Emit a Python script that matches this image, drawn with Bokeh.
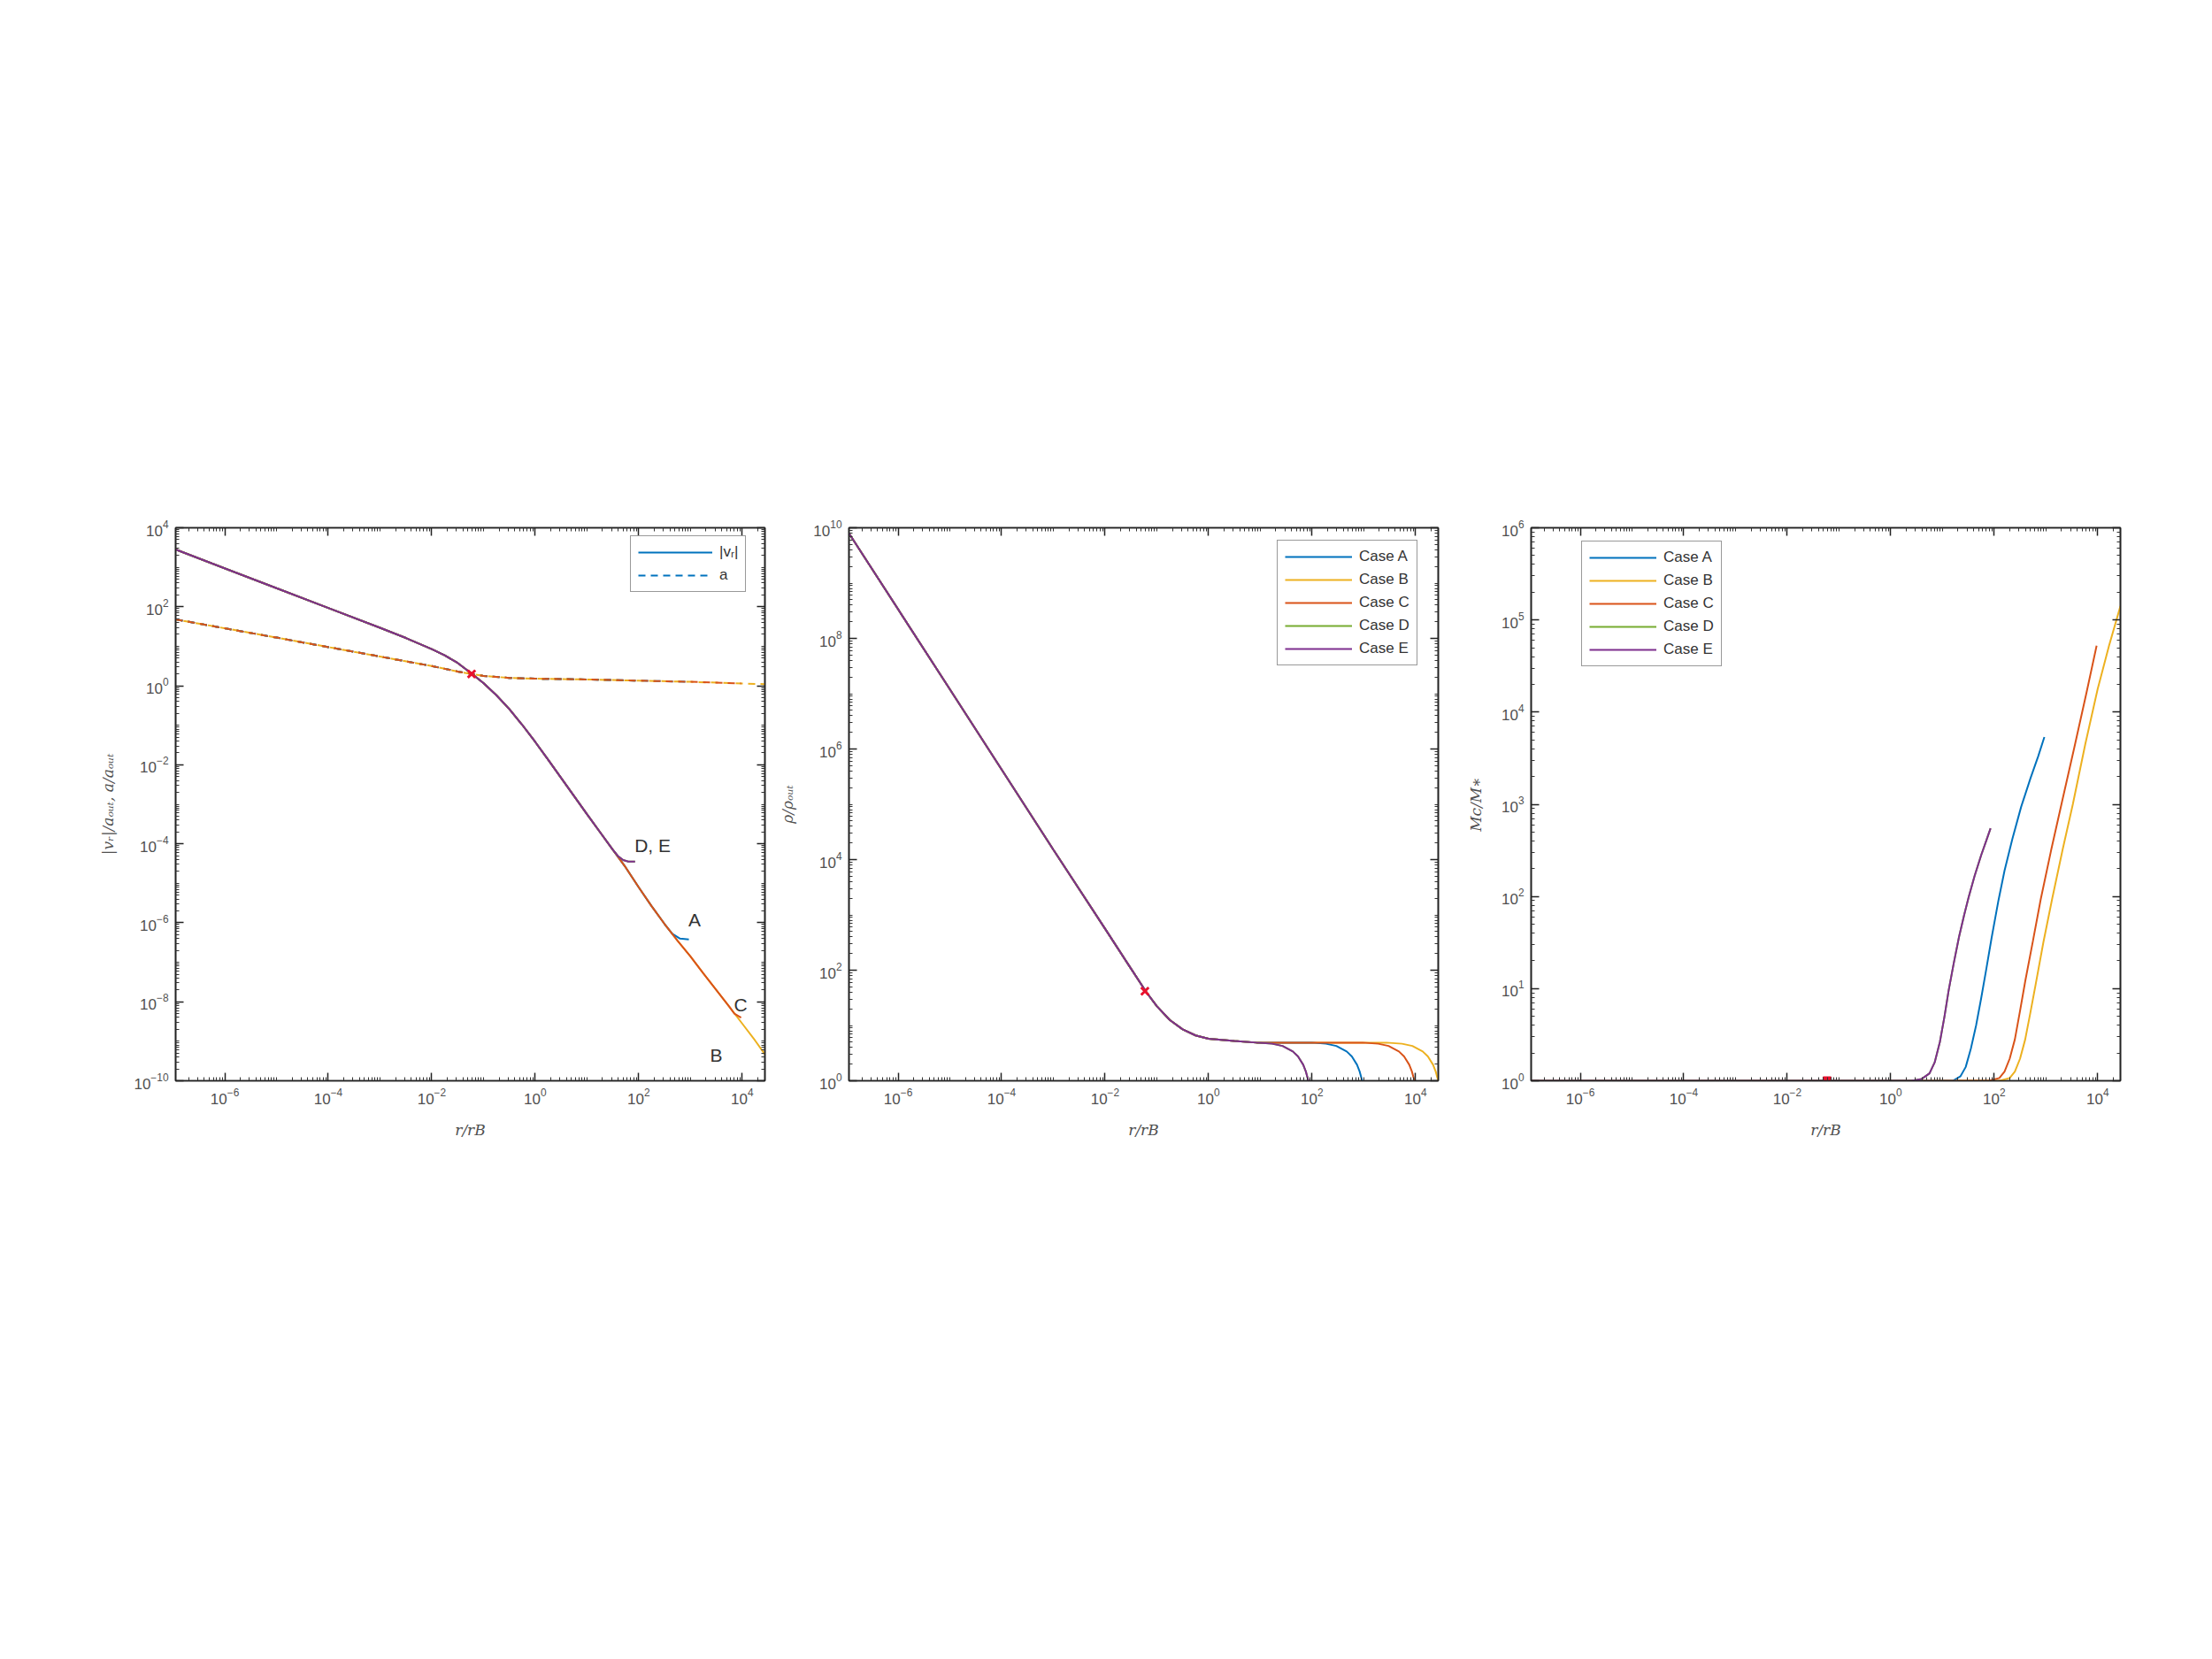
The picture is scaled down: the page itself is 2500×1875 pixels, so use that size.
from bokeh.plotting import figure
from bokeh.models import (Range1d, LogAxis, FixedTicker, Legend, LegendItem, Label,
                          CustomJSTickFormatter)
from bokeh.layouts import row
from bokeh.embed import file_html
from bokeh.resources import INLINE

# ---------------- data (log10 values) ----------------
case_names = ["A", "B", "C", "D", "E"]
case_colors = {"A": "#0072BD", "B": "#EDB120", "C": "#D95319", "D": "#77AC30", "E": "#7E2F8E"}

x_lim_log = (-6.95, 4.44)          # r / r_B axis limits (log10)
x_tick_exp = [-6, -4, -2, 0, 2, 4]

# Panel 1: |v_r|/a_out (solid) -- common inner branch, then per-case tails
vr_common_logr = [-6.95, -5.0, -4.0, -3.0, -2.5, -2.0, -1.75, -1.5, -1.23, -1.0, -0.75,
                  -0.5, -0.25, 0.0, 0.25, 0.5, 0.75, 1.0, 1.25, 1.5]
vr_common_logv = [3.45, 2.47, 1.97, 1.47, 1.21, 0.93, 0.77, 0.58, 0.31, 0.07, -0.24,
                  -0.59, -0.99, -1.42, -1.87, -2.33, -2.79, -3.25, -3.70, -4.15]
vr_tail_logr = {
    "E": [1.6, 1.7, 1.8, 1.93],
    "A": [1.75, 2.0, 2.25, 2.5, 2.65, 2.8, 2.97],
    "C": [1.75, 2.0, 2.25, 2.5, 2.75, 3.0, 3.25, 3.5, 3.75, 3.85, 3.98],
    "B": [1.75, 2.0, 2.25, 2.5, 2.75, 3.0, 3.25, 3.5, 3.75, 4.0, 4.25, 4.44],
}
vr_tail_logv = {
    "E": [-4.31, -4.41, -4.45, -4.45],
    "A": [-4.60, -5.10, -5.58, -6.03, -6.28, -6.40, -6.42],
    "C": [-4.60, -5.10, -5.58, -6.03, -6.45, -6.85, -7.28, -7.70, -8.12, -8.30, -8.40],
    "B": [-4.60, -5.10, -5.58, -6.03, -6.45, -6.85, -7.28, -7.70, -8.12, -8.55, -8.98, -9.33],
}
vr_tail_logr["D"] = vr_tail_logr["E"]
vr_tail_logv["D"] = vr_tail_logv["E"]

# Panel 1: a/a_out (dashed)
a_common_logr = [-6.95, -5.0, -3.0, -2.0, -1.5, -1.23, -1.0, -0.5, 0.0, 1.0]
a_common_loga = [1.68, 1.22, 0.74, 0.50, 0.36, 0.30, 0.25, 0.20, 0.18, 0.16]
a_tail_logr = {"E": [1.93], "A": [2.0, 2.97], "C": [2.0, 3.0, 3.98], "B": [2.0, 3.0, 4.0, 4.44]}
a_tail_loga = {"E": [0.13], "A": [0.13, 0.10], "C": [0.13, 0.10, 0.06], "B": [0.13, 0.10, 0.06, 0.04]}
a_tail_logr["D"] = a_tail_logr["E"]
a_tail_loga["D"] = a_tail_loga["E"]

# Panel 2: rho/rho_out
rho_common_logr = [-6.95, -5.0, -3.0, -2.0, -1.5, -1.2, -1.0, -0.75, -0.5, -0.25, 0.0, 0.5, 0.93]
rho_common_logrho = [9.90, 7.08, 4.18, 2.75, 2.03, 1.60, 1.35, 1.10, 0.93, 0.82, 0.76, 0.72, 0.69]
rho_tail_logr = {
    "E": [1.23, 1.43, 1.63, 1.73, 1.83, 1.88, 1.93],
    "A": [1.5, 2.0, 2.27, 2.47, 2.67, 2.77, 2.87, 2.92, 2.97],
    "C": [1.5, 2.5, 2.98, 3.28, 3.48, 3.68, 3.78, 3.88, 3.93, 3.98],
    "B": [1.5, 2.5, 3.44, 3.74, 3.94, 4.14, 4.24, 4.34, 4.39, 4.44],
}
rho_tail_logrho = {
    "E": [0.67, 0.63, 0.53, 0.44, 0.29, 0.17, 0.0],
    "A": [0.69, 0.69, 0.67, 0.63, 0.53, 0.44, 0.29, 0.17, 0.0],
    "C": [0.69, 0.69, 0.69, 0.67, 0.63, 0.53, 0.44, 0.29, 0.17, 0.0],
    "B": [0.69, 0.69, 0.69, 0.67, 0.63, 0.53, 0.44, 0.29, 0.17, 0.0],
}
rho_tail_logr["D"] = rho_tail_logr["E"]
rho_tail_logrho["D"] = rho_tail_logrho["E"]

# Panel 3: M_c/M_*
mc_logr = {
    "E": [-6.95, 0.4, 0.6, 0.75, 0.85, 0.95, 1.04, 1.12, 1.22, 1.32, 1.42, 1.51, 1.62, 1.75, 1.85, 1.93],
    "A": [-6.95, 1.2, 1.35, 1.45, 1.55, 1.65, 1.75, 1.85, 1.95, 2.08, 2.2, 2.35, 2.52, 2.7, 2.85, 2.97],
    "C": [-6.95, 1.9, 2.1, 2.2, 2.3, 2.4, 2.5, 2.6, 2.75, 2.9, 3.1, 3.3, 3.55, 3.78, 3.98],
    "B": [-6.95, 2.1, 2.3, 2.4, 2.5, 2.6, 2.7, 2.8, 2.95, 3.13, 3.32, 3.52, 3.76, 4.0, 4.22, 4.44],
}
mc_logm = {
    "E": [0, 0, 0.02, 0.08, 0.2, 0.42, 0.70, 0.98, 1.28, 1.56, 1.80, 2.0, 2.22, 2.45, 2.61, 2.74],
    "A": [0, 0, 0.05, 0.15, 0.35, 0.60, 0.90, 1.22, 1.55, 1.95, 2.28, 2.62, 2.97, 3.28, 3.52, 3.73],
    "C": [0, 0, 0.03, 0.10, 0.24, 0.45, 0.76, 1.08, 1.52, 1.97, 2.50, 3.0, 3.62, 4.20, 4.72],
    "B": [0, 0, 0.03, 0.10, 0.24, 0.45, 0.74, 1.04, 1.50, 2.0, 2.5, 3.0, 3.65, 4.25, 4.72, 5.15],
}
mc_logr["D"] = mc_logr["E"]
mc_logm["D"] = mc_logm["E"]

# sonic point marker (log10 r, log10 value in each panel)
sonic_logr = -1.23
sonic_logy = [0.30, 1.62, 0.0]

# annotations of panel 1: (text, log r, log y)
p1_notes = [("D, E", 1.92, -4.05), ("A", 3.08, -5.92), ("C", 3.97, -8.07), ("B", 3.50, -9.35)]

draw_order = ["B", "A", "C", "D", "E"]
dash_order = [("E", 0), ("D", 0), ("A", 0), ("B", 5), ("C", 0)]

# ---------------- helpers ----------------
TXT = "#505050"
FONT = "Liberation Sans"


def pw(vals):
    return [10.0 ** v for v in vals]


def minor_list(lo, hi, skip):
    out = []
    for k in range(lo, hi + 1):
        for m in range(1, 10):
            if m == 1 and k in skip:
                continue
            out.append(m * 10.0 ** k)
    return out


def style_axis(ax, show_labels=True):
    ax.major_tick_in = 9
    ax.major_tick_out = 0
    ax.minor_tick_in = 4
    ax.minor_tick_out = 0
    ax.axis_line_width = 1.6
    ax.axis_line_color = "#222222"
    ax.major_tick_line_color = "#222222"
    ax.minor_tick_line_color = "#333333"
    ax.major_tick_line_width = 1.5
    ax.major_label_text_font = FONT
    ax.major_label_text_font_size = "17px"
    ax.major_label_text_color = TXT
    ax.major_label_standoff = 8
    ax.axis_label_text_font = "DejaVu Serif"
    ax.axis_label_text_font_style = "italic"
    ax.axis_label_text_font_size = "17px"
    ax.axis_label_text_color = TXT
    ax.axis_label_standoff = 16
    if not show_labels:
        ax.formatter = CustomJSTickFormatter(code="return ''")
        ax.major_label_standoff = 0


def make_fig(ylo, yhi, ytick_exp, ylabel, bl, br):
    p = figure(x_axis_type="log", y_axis_type="log",
               x_range=Range1d(10 ** x_lim_log[0], 10 ** x_lim_log[1]),
               y_range=Range1d(10.0 ** ylo, 10.0 ** yhi),
               frame_width=666, frame_height=625,
               min_border_top=596, min_border_bottom=110,
               min_border_left=bl, min_border_right=br,
               output_backend="svg", toolbar_location=None)
    p.grid.visible = False
    p.outline_line_color = "#222222"
    p.outline_line_width = 1.6
    xt = FixedTicker(ticks=[10.0 ** k for k in x_tick_exp],
                     minor_ticks=minor_list(-7, 4, x_tick_exp))
    yt = FixedTicker(ticks=[10.0 ** k for k in ytick_exp],
                     minor_ticks=minor_list(ylo, yhi, ytick_exp))
    p.xaxis.ticker = xt
    p.yaxis.ticker = yt
    p.xaxis.axis_label = "r/rB"
    p.yaxis.axis_label = ylabel
    for ax in p.xaxis + p.yaxis:
        style_axis(ax)
    top = LogAxis(ticker=xt)
    right = LogAxis(ticker=yt)
    style_axis(top, False)
    style_axis(right, False)
    p.add_layout(top, "above")
    p.add_layout(right, "right")
    return p


def styled_legend(items, loc, glyph_w=76):
    lg = Legend(items=items, location=loc)
    lg.border_line_color = "#333333"
    lg.border_line_width = 1.6
    lg.background_fill_color = "white"
    lg.background_fill_alpha = 1.0
    lg.label_text_font = FONT
    lg.label_text_font_size = "17px"
    lg.label_text_color = "#333333"
    lg.glyph_width = glyph_w
    lg.glyph_height = 20
    lg.label_height = 20
    lg.spacing = 6
    lg.padding = 8
    lg.margin = 0
    lg.label_standoff = 8
    return lg


# ---------------- panel 1 ----------------
p1 = make_fig(-10, 4, [-10, -8, -6, -4, -2, 0, 2, 4],
              "|v\u1d63|/a\u2092\u1d64\u209c, a/a\u2092\u1d64\u209c", 198, 6)
solid_r = {}
dash_r = {}
for c, off in dash_order:
    xr = pw(a_common_logr + a_tail_logr[c])
    yr = pw(a_common_loga + a_tail_loga[c])
    dash_r[c] = p1.line(xr, yr, line_color=case_colors[c], line_width=2, line_dash="8 6",
                        line_dash_offset=off)
for c in draw_order:
    xr = pw(vr_common_logr + vr_tail_logr[c])
    yr = pw(vr_common_logv + vr_tail_logv[c])
    solid_r[c] = p1.line(xr, yr, line_color=case_colors[c], line_width=2)
p1.scatter([10 ** sonic_logr], [10 ** sonic_logy[0]], marker="x", size=12,
           line_color="#e8112d", line_width=3)
for txt, lx, ly in p1_notes:
    p1.add_layout(Label(x=10 ** lx, y=10 ** ly, text=txt, text_font=FONT,
                        text_font_size="21px", text_color="#333333",
                        text_align="center" if len(txt) == 1 else "left",
                        text_baseline="middle"))
p1.add_layout(styled_legend([LegendItem(label="|v\u1d63|", renderers=[solid_r["A"]]),
                             LegendItem(label="a", renderers=[dash_r["A"]])],
                            (514, 552), glyph_w=84))

# ---------------- panel 2 ----------------
p2 = make_fig(0, 10, [0, 2, 4, 6, 8, 10], "\u03c1/\u03c1\u2092\u1d64\u209c", 89, 6)
rho_r = {}
for c in draw_order:
    xr = pw(rho_common_logr + rho_tail_logr[c])
    yr = pw(rho_common_logrho + rho_tail_logrho[c])
    rho_r[c] = p2.line(xr, yr, line_color=case_colors[c], line_width=2)
p2.scatter([10 ** sonic_logr], [10 ** sonic_logy[1]], marker="x", size=12,
           line_color="#e8112d", line_width=3)
p2.add_layout(styled_legend([LegendItem(label="Case " + c, renderers=[rho_r[c]])
                             for c in case_names], (484, 469)))

# ---------------- panel 3 ----------------
p3 = make_fig(0, 6, [0, 1, 2, 3, 4, 5, 6], "Mc/M\u2217", 99, 40)
mc_r = {}
for c in draw_order:
    mc_r[c] = p3.line(pw(mc_logr[c]), pw(mc_logm[c]), line_color=case_colors[c], line_width=2)
p3.scatter([10 ** sonic_logr], [10 ** sonic_logy[2]], marker="square", size=9,
           fill_color="#e8112d", line_color="#e8112d")
p3.add_layout(styled_legend([LegendItem(label="Case " + c, renderers=[mc_r[c]])
                             for c in case_names], (57, 468)))

layout = row(p1, p2, p3)
open("out.html", "w").write(file_html(layout, INLINE))
